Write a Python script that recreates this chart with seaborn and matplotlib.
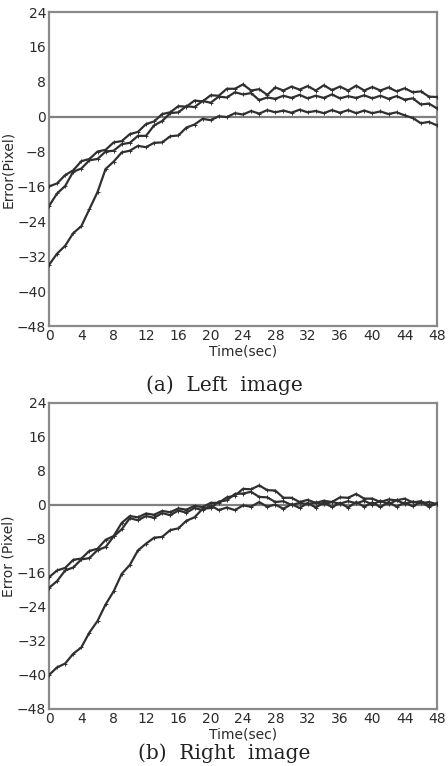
import numpy as np
import pandas as pd
import matplotlib
matplotlib.use("Agg")
import matplotlib.pyplot as plt
import seaborn as sns
from matplotlib.ticker import MultipleLocator

# ---------------- data ----------------
time_sec = list(range(0, 49))

# (a) Left image
left_a = [-16, -15.3, -13.4, -12.3, -10.2, -9.7, -8.0, -7.6, -5.9, -5.6, -4.0, -3.5, -1.7, -1.1, 0.6,
          1.0, 2.4, 2.3, 3.7, 3.5, 4.9, 4.8, 6.4, 6.4, 7.4, 6.0, 6.3, 5.0, 6.7, 6.0,
          6.9, 6.2, 7.0, 6.0, 7.2, 6.1, 6.9, 6.0, 7.1, 6.0, 6.8, 6.0, 6.7, 5.8, 6.5,
          5.6, 5.8, 4.6, 4.5]
left_b = [-20.5, -17.6, -15.9, -12.6, -11.9, -10.0, -9.7, -8.0, -7.8, -6.3, -6.0, -4.4, -4.4, -2.0, -1.0,
          0.8, 1.0, 2.4, 2.2, 3.6, 3.2, 4.6, 4.4, 5.6, 5.1, 5.4, 3.8, 4.4, 4.1, 4.8,
          4.3, 5.0, 4.2, 4.8, 4.3, 5.1, 4.2, 4.7, 4.3, 4.9, 4.2, 4.8, 4.1, 4.7, 3.9,
          4.2, 2.8, 3.0, 1.9]
left_c = [-34, -31.4, -29.6, -26.7, -25.1, -21.2, -17.3, -12.0, -10.3, -8.2, -7.8, -6.7, -7.0, -6.0, -5.9,
          -4.5, -4.3, -2.5, -1.8, -0.5, -0.8, 0.1, -0.1, 0.8, 0.5, 1.3, 0.7, 1.5, 1.0, 1.4,
          0.9, 1.6, 1.0, 1.3, 0.8, 1.5, 0.9, 1.5, 0.8, 1.4, 0.8, 1.2, 0.6, 1.0, 0.3,
          -0.3, -1.5, -1.2, -2.0]

# (b) Right image
right_a = [-17, -15.4, -14.8, -12.9, -12.6, -10.8, -10.3, -8.2, -7.3, -4.2, -2.6, -2.9, -2.0, -2.3, -1.4,
           -1.7, -0.8, -1.1, -0.2, -0.5, 0.5, 0.5, 1.8, 2.2, 3.8, 3.7, 4.6, 3.5, 3.4, 1.7,
           1.7, 0.7, 1.2, 0.5, 1.0, 0.7, 1.8, 1.7, 2.6, 1.5, 1.5, 0.7, 1.3, 1.1, 1.5,
           0.6, 0.9, 0.0, 0.3]
right_b = [-19.5, -17.9, -15.4, -14.7, -12.8, -12.5, -10.6, -9.9, -7.4, -5.7, -3.1, -3.6, -2.6, -3.0, -1.9,
           -2.4, -1.3, -1.8, -0.7, -1.2, -0.1, -1.2, -0.6, -1.2, -0.1, -0.4, 0.7, -0.4, 0.1, -0.9,
           0.2, -0.7, 0.5, -0.6, 0.6, -0.5, 0.5, -0.6, 0.7, -0.4, 0.6, -0.5, 0.7, -0.4, 0.6,
           -0.3, 0.7, -0.4, 0.4]
right_c = [-40, -38.2, -37.3, -35.0, -33.5, -30.0, -27.3, -23.4, -20.3, -16.2, -14.1, -10.7, -9.1, -7.7, -7.5,
           -5.9, -5.5, -3.7, -2.9, -0.9, -0.7, 0.8, 1.1, 2.6, 2.7, 3.1, 1.9, 1.8, 0.7, 0.9,
           0.0, 0.5, 0.2, 0.6, 0.2, 0.7, 0.3, 0.9, 0.4, 1.0, 0.1, 1.0, 0.2, 1.1, 0.3,
           0.8, 0.4, 0.7, 0.2]

x_ticks = list(range(0, 49, 4))
y_ticks = list(range(-48, 25, 8))

# ---------------- figure ----------------
sns.set_style("white")
plt.rcParams['font.family'] = ['DejaVu Sans']

W, H = 448, 766
fig = plt.figure(figsize=(W / 100, H / 100), dpi=100)

def make_df(series):
    frames = []
    for name, vals in series.items():
        frames.append(pd.DataFrame({"Time": time_sec, "Error": vals, "series": name}))
    return pd.concat(frames, ignore_index=True)

panels = [
    dict(rect=[49 / W, (H - 326) / H, 388 / W, 314 / H],
         data=make_df({"a": left_a, "b": left_b, "c": left_c}),
         ylabel="Error(Pixel)", caption="(a)  Left  image", cap_y=(H - 385) / H),
    dict(rect=[49 / W, (H - 709) / H, 388 / W, 306 / H],
         data=make_df({"a": right_a, "b": right_b, "c": right_c}),
         ylabel="Error (Pixel)", caption="(b)  Right  image", cap_y=(H - 753) / H),
]

spine_col = "#8a8a8a"
text_col = "#2b2b2b"
line_col = "#303030"

for p in panels:
    ax = fig.add_axes(p["rect"])
    ax.axhline(0, color="#808080", lw=1.6, zorder=1)
    sns.lineplot(data=p["data"], x="Time", y="Error", units="series", estimator=None,
                 color=line_col, lw=1.6, marker="+", markersize=2.5, markeredgewidth=0.7,
                 markeredgecolor=line_col, markerfacecolor=line_col,
                 ax=ax, legend=False, zorder=3)
    ax.set_xlim(0, 48)
    ax.set_ylim(-48, 24)
    ax.set_xticks(x_ticks)
    ax.set_yticks(y_ticks)
    ax.xaxis.set_minor_locator(MultipleLocator(2))
    ax.yaxis.set_minor_locator(MultipleLocator(4))
    ax.tick_params(axis="both", which="both", direction="in", top=False, right=False,
                   color="#666666", labelcolor=text_col, labelsize=10)
    ax.tick_params(which="major", length=4, width=1.2, pad=2)
    ax.tick_params(which="minor", length=2.5, width=1.0)
    for s in ax.spines.values():
        s.set_color(spine_col)
        s.set_linewidth(1.6)
    ax.set_xlabel("Time(sec)", fontsize=10, color=text_col, labelpad=1)
    ax.set_ylabel(p["ylabel"], fontsize=10, color=text_col, labelpad=1)
    fig.text(0.5, p["cap_y"], p["caption"], ha="center", va="center",
             fontsize=14.5, family="DejaVu Serif", color="#222222")

fig.savefig("out.png", dpi=100)
